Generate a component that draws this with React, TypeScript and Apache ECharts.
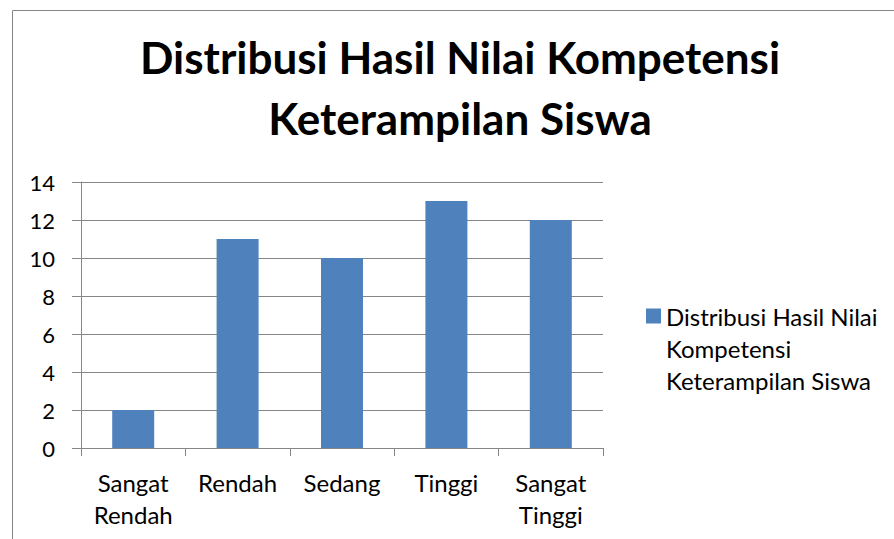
import React, { useEffect, useRef } from "react";
import * as echarts from "echarts";

const titleLines = ["Distribusi Hasil Nilai Kompetensi", "Keterampilan Siswa"];
const categories = ["Sangat\nRendah", "Rendah", "Sedang", "Tinggi", "Sangat\nTinggi"];
const values = [2, 11, 10, 13, 12];
const seriesName = "Distribusi Hasil Nilai\nKompetensi\nKeterampilan Siswa";
const barColor = "#4F81BD";
const FONT = "Lato, 'Noto Sans', sans-serif";

export default function App() {
  const ref = useRef<HTMLDivElement>(null);
  useEffect(() => {
    const chart = echarts.init(ref.current!, null, { renderer: "svg" });
    chart.setOption({
      animation: false,
      backgroundColor: "#fff",
      textStyle: { fontFamily: FONT },
      title: {
        text: titleLines.join("\n"),
        left: 460,
        top: 26,
        padding: 0,
        textAlign: "center",
        textStyle: {
          fontFamily: FONT,
          fontWeight: "bold",
          fontSize: 44,
          lineHeight: 61,
          color: "#000",
        },
      },
      graphic: [
        {
          type: "rect",
          shape: { x: 12.5, y: 10.5, width: 1000, height: 1000 },
          style: { fill: "none", stroke: "#868686", lineWidth: 1 },
          silent: true,
        },
      ],
      legend: {
        left: 646,
        top: 236,
        padding: 0,
        orient: "vertical",
        itemWidth: 15,
        itemHeight: 15,
        itemGap: 0,
        icon: "rect",
        formatter: (name: string) => "\n\n" + name,
        textStyle: {
          fontFamily: FONT,
          fontSize: 24,
          lineHeight: 32,
          color: "#000",
        },
        data: [seriesName],
      },
      grid: { left: 81, right: 291, top: 182, bottom: 91 },
      xAxis: {
        type: "category",
        data: categories,
        axisLine: { lineStyle: { color: "#868686", width: 1 } },
        axisTick: { show: true, length: 8, lineStyle: { color: "#868686" } },
        axisLabel: {
          color: "#000",
          fontSize: 24,
          lineHeight: 32,
          margin: 18,
          fontFamily: FONT,
          interval: 0,
        },
      },
      yAxis: {
        type: "value",
        min: 0,
        max: 14,
        interval: 2,
        axisLine: { show: true, lineStyle: { color: "#868686", width: 1 } },
        axisTick: { show: true, length: 9, lineStyle: { color: "#868686" } },
        splitLine: { lineStyle: { color: "#868686", width: 1 } },
        axisLabel: { color: "#000", fontSize: 22, margin: 26, fontFamily: FONT },
      },
      series: [
        {
          name: seriesName,
          type: "bar",
          data: values,
          barWidth: 42,
          itemStyle: { color: barColor },
        },
      ],
    });
    return () => chart.dispose();
  }, []);
  return <div ref={ref} style={{ width: 894, height: 539, position: "absolute", left: 0, top: 0 }} />;
}
